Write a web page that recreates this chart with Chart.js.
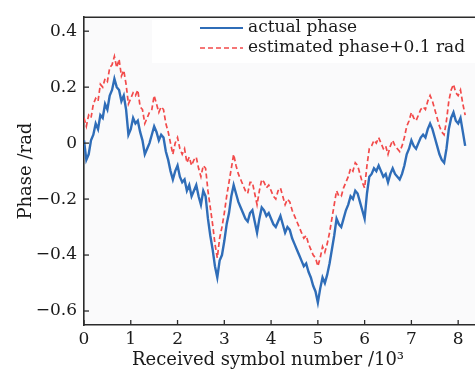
<!DOCTYPE html>
<html lang="en">
<head>
  <meta charset="UTF-8">
  <title>Phase</title>
  <style>
    *{
      margin: 0;
      padding: 0;
    }
    body{
      background: #ffffff;
    }
    .chartBox{
      width: 475px;
      height: 373px;
    }
  </style>
</head>
<body>
  <div class="chartBox">
    <canvas id="myChart" width="475" height="373"></canvas>
  </div>
  <script src="https://cdn.jsdelivr.net/npm/chart.js"></script>
  <script>
    // received symbol number (x 10^3)
    const symbols = [
      0,0.05,0.1,0.15,0.2,0.25,0.3,0.35,0.4,0.45,0.5,0.55,0.6,0.65,0.7,0.75,0.8,0.85,0.9,0.95,
      1,1.05,1.1,1.15,1.2,1.25,1.3,1.35,1.4,1.45,1.5,1.55,1.6,1.65,1.7,1.75,1.8,1.85,1.9,1.95,
      2,2.05,2.1,2.15,2.2,2.25,2.3,2.35,2.4,2.45,2.5,2.55,2.6,2.65,2.7,2.75,2.8,2.85,2.9,2.95,
      3,3.05,3.1,3.15,3.2,3.25,3.3,3.35,3.4,3.45,3.5,3.55,3.6,3.65,3.7,3.75,3.8,3.85,3.9,3.95,
      4,4.05,4.1,4.15,4.2,4.25,4.3,4.35,4.4,4.45,4.5,4.55,4.6,4.65,4.7,4.75,4.8,4.85,4.9,4.95,
      5,5.05,5.1,5.15,5.2,5.25,5.3,5.35,5.4,5.45,5.5,5.55,5.6,5.65,5.7,5.75,5.8,5.85,5.9,5.95,
      6,6.05,6.1,6.15,6.2,6.25,6.3,6.35,6.4,6.45,6.5,6.55,6.6,6.65,6.7,6.75,6.8,6.85,6.9,6.95,
      7,7.05,7.1,7.15,7.2,7.25,7.3,7.35,7.4,7.45,7.5,7.55,7.6,7.65,7.7,7.75,7.8,7.85,7.9,7.95,
      8,8.05,8.1,8.15
    ];
    const actualPhase = [
      0.01,-0.06,-0.04,0.01,0.03,0.07,0.05,0.10,0.09,0.14,0.12,0.17,0.19,0.23,0.20,0.19,0.15,0.17,0.12,0.03,
      0.05,0.09,0.07,0.08,0.04,0.01,-0.04,-0.02,0.00,0.03,0.06,0.04,0.01,0.03,0.02,-0.03,-0.06,-0.10,-0.13,-0.10,
      -0.08,-0.12,-0.14,-0.13,-0.17,-0.15,-0.19,-0.17,-0.15,-0.19,-0.22,-0.17,-0.19,-0.27,-0.33,-0.38,-0.44,-0.48,-0.42,-0.40,
      -0.35,-0.29,-0.25,-0.19,-0.15,-0.18,-0.21,-0.23,-0.25,-0.27,-0.28,-0.25,-0.24,-0.28,-0.32,-0.27,-0.23,-0.24,-0.26,-0.25,
      -0.27,-0.29,-0.30,-0.28,-0.26,-0.29,-0.32,-0.30,-0.31,-0.34,-0.36,-0.38,-0.40,-0.42,-0.44,-0.43,-0.46,-0.48,-0.51,-0.53,
      -0.57,-0.52,-0.48,-0.50,-0.47,-0.43,-0.38,-0.33,-0.27,-0.29,-0.30,-0.27,-0.24,-0.22,-0.19,-0.20,-0.17,-0.18,-0.21,-0.24,
      -0.27,-0.18,-0.12,-0.11,-0.09,-0.10,-0.08,-0.10,-0.12,-0.11,-0.14,-0.11,-0.09,-0.11,-0.12,-0.13,-0.11,-0.08,-0.04,-0.02,
      0.01,-0.01,-0.02,0.00,0.02,0.03,0.02,0.05,0.07,0.05,0.02,-0.01,-0.04,-0.06,-0.07,-0.02,0.05,0.09,0.11,0.08,
      0.07,0.09,0.04,-0.01
    ];
    const estimatedPhase = [
      0.09,0.06,0.10,0.09,0.14,0.16,0.15,0.21,0.20,0.23,0.22,0.27,0.28,0.31,0.27,0.30,0.24,0.26,0.21,0.14,
      0.16,0.18,0.17,0.19,0.13,0.12,0.07,0.09,0.11,0.12,0.17,0.14,0.11,0.13,0.12,0.07,0.04,0.00,-0.04,0.00,
      0.02,-0.02,-0.04,-0.02,-0.07,-0.05,-0.08,-0.06,-0.05,-0.09,-0.12,-0.08,-0.09,-0.17,-0.23,-0.29,-0.36,-0.41,-0.34,-0.30,
      -0.25,-0.19,-0.14,-0.09,-0.04,-0.08,-0.11,-0.13,-0.15,-0.17,-0.18,-0.14,-0.14,-0.18,-0.22,-0.17,-0.13,-0.14,-0.16,-0.15,
      -0.17,-0.19,-0.20,-0.17,-0.16,-0.19,-0.22,-0.20,-0.21,-0.24,-0.26,-0.28,-0.30,-0.32,-0.34,-0.33,-0.36,-0.38,-0.40,-0.41,
      -0.44,-0.41,-0.37,-0.39,-0.36,-0.32,-0.27,-0.22,-0.17,-0.19,-0.19,-0.16,-0.14,-0.12,-0.09,-0.10,-0.07,-0.08,-0.11,-0.14,
      -0.16,-0.08,-0.02,-0.01,0.01,0.00,0.02,0.00,-0.02,-0.01,-0.04,-0.01,0.01,-0.01,-0.02,-0.03,-0.01,0.02,0.06,0.08,
      0.11,0.09,0.08,0.10,0.12,0.13,0.12,0.15,0.17,0.15,0.12,0.09,0.06,0.04,0.03,0.08,0.15,0.19,0.21,0.18,
      0.17,0.19,0.14,0.10
    ];
    const xTicks = [0,1,2,3,4,5,6,7,8];
    const xTickLabels = ['0','1','2','3','4','5','6','7','8'];
    const yTicks = [-0.6,-0.4,-0.2,0,0.2,0.4];
    const yTickLabels = ['\u22120.6','\u22120.4','\u22120.2','0','0.2','0.4'];
    const seriesNames = ['actual phase','estimated phase+0.1 rad'];

    const serif = 'DejaVu Serif';
    const ink = '#1a1a1a';

    // backgrounds, top frame line, inward ticks, legend
    const decor = {
      id: 'decor',
      beforeDraw(chart){
        const {ctx, chartArea: a} = chart;
        ctx.save();
        ctx.fillStyle = '#ffffff';
        ctx.fillRect(0, 0, chart.width, chart.height);
        ctx.fillStyle = '#fafafb';
        ctx.fillRect(a.left, a.top, a.right - a.left, a.bottom - a.top);
        ctx.fillStyle = '#ffffff';
        ctx.fillRect(152, 20, a.right - 152, 43);
        ctx.restore();
      },
      afterDraw(chart){
        const {ctx, chartArea: a, scales} = chart;
        ctx.save();
        ctx.strokeStyle = '#2b2b2b';
        ctx.lineWidth = 1.6;
        ctx.beginPath();
        ctx.moveTo(a.left, a.top);
        ctx.lineTo(a.right, a.top);
        ctx.stroke();
        ctx.lineWidth = 1.3;
        xTicks.forEach(v => {
          const px = scales.x.getPixelForValue(v);
          ctx.beginPath();
          ctx.moveTo(px, a.bottom);
          ctx.lineTo(px, a.bottom - 5);
          ctx.stroke();
        });
        yTicks.forEach(v => {
          const py = scales.y.getPixelForValue(v);
          ctx.beginPath();
          ctx.moveTo(a.left, py);
          ctx.lineTo(a.left + 5, py);
          ctx.stroke();
        });
        // legend
        const ds = chart.data.datasets;
        ctx.font = '17px "' + serif + '"';
        ctx.textBaseline = 'middle';
        ctx.fillStyle = ink;
        ds.forEach((d, i) => {
          const y = 28 + i * 20;
          ctx.strokeStyle = d.borderColor;
          ctx.lineWidth = Math.min(d.borderWidth, 2);
          ctx.setLineDash(d.borderDash || []);
          ctx.beginPath();
          ctx.moveTo(200, y);
          ctx.lineTo(243, y);
          ctx.stroke();
          ctx.setLineDash([]);
          ctx.fillText(seriesNames[i], 248, y);
        });
        ctx.restore();
      }
    };

    const data = {
      datasets: [{
        label: seriesNames[0],
        data: symbols.map((x, i) => ({x: x, y: actualPhase[i]})),
        borderColor: '#2f6db8',
        borderWidth: 2.4,
        pointRadius: 0,
        tension: 0
      },{
        label: seriesNames[1],
        data: symbols.map((x, i) => ({x: x, y: estimatedPhase[i]})),
        borderColor: '#f24a4a',
        borderWidth: 1.7,
        borderDash: [5, 3],
        pointRadius: 0,
        tension: 0
      }]
    };

    const config = {
      type: 'line',
      data,
      options: {
        responsive: false,
        animation: false,
        layout: {padding: {top: 9, right: 0, bottom: 0, left: 0}},
        plugins: {
          legend: {display: false},
          tooltip: {enabled: false}
        },
        scales: {
          x: {
            type: 'linear',
            min: 0,
            max: 8.36,
            afterBuildTicks: s => { s.ticks = xTicks.map(v => ({value: v})); },
            afterFit: s => { s.height = 48; },
            grid: {display: true, drawOnChartArea: false, drawTicks: false},
            border: {display: true, color: '#2b2b2b', width: 1.6},
            ticks: {
              padding: 4,
              color: ink,
              maxRotation: 0,
              font: {family: serif, size: 17},
              callback: (v, i) => xTickLabels[i]
            },
            title: {
              display: true,
              // trailing spaces nudge the centred title left, as in the source figure
              text: 'Received symbol number /10\u00b3    ',
              color: ink,
              font: {family: serif, size: 18},
              padding: {top: 0, bottom: 2}
            }
          },
          y: {
            min: -0.65,
            max: 0.45,
            afterBuildTicks: s => { s.ticks = yTicks.map(v => ({value: v})); },
            afterFit: s => { s.width = 84; },
            grid: {display: true, drawOnChartArea: false, drawTicks: false},
            border: {display: true, color: '#2b2b2b', width: 1.6},
            ticks: {
              padding: 7,
              color: ink,
              font: {family: serif, size: 17},
              callback: (v, i) => yTickLabels[i]
            },
            title: {
              display: true,
              text: 'Phase /rad',
              color: ink,
              font: {family: serif, size: 18},
              padding: {top: 16, bottom: 0}
            }
          }
        }
      },
      plugins: [decor]
    };

    const myChart = new Chart(document.getElementById('myChart'), config);
  </script>
</body>
</html>
